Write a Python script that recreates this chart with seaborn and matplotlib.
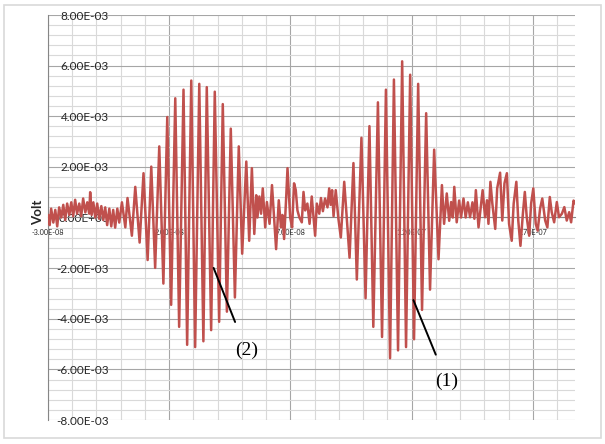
import matplotlib
matplotlib.use("Agg")
import matplotlib.pyplot as plt
from matplotlib.ticker import FuncFormatter, FixedLocator
from matplotlib.patches import Rectangle
import seaborn as sns
import pandas as pd
import numpy as np

# Received signal: time in ns, amplitude in mV (turning points of the trace)
t_ns = [
    -29.9, -29.3, -28.7, -27.8, -27.0, -26.2, -25.4, -24.5, -23.7, -22.9,
    -22.1, -21.2, -20.4, -19.6, -18.8, -18.0, -17.1, -16.3, -15.5, -14.6,
    -13.8, -13.0, -12.6, -12.0, -11.3, -10.5, -9.7, -8.9, -8.0, -7.2,
    -6.4, -5.6, -4.7, -3.9, -3.1, -2.3, -1.4, -0.6,
    0.5, 1.9, 2.8, 4.6, 6.0, 7.8, 9.4, 11.1, 12.6, 14.2,
    15.9, 17.6, 19.2, 20.8, 22.5, 24.1, 25.9, 27.4, 29.1, 30.7,
    32.4, 34.1, 35.5, 37.3, 38.8, 40.6, 42.1, 43.8, 45.4, 47.1,
    48.7, 50.1, 51.8, 53.0, 54.1,
    55.1, 55.9, 56.4, 57.2, 57.9, 58.6, 59.6, 60.3, 61.4, 62.4,
    63.4, 64.1, 65.2, 66.1, 66.7, 67.4, 68.3, 68.8, 69.9, 70.7,
    71.5, 72.2, 72.9, 73.7, 74.7, 75.4, 76.1, 77.0, 77.9, 78.8,
    80.2, 80.9, 81.9, 82.6, 83.4, 84.3, 85.3, 86.0, 86.6, 87.2,
    87.8, 88.7, 89.8,
    90.8, 92.2, 94.4, 96.0, 97.4, 99.3, 101.0, 102.6, 104.2, 106.1,
    107.8, 109.4, 111.1, 112.7, 114.4, 116.1, 117.7, 119.4, 121.0, 122.7,
    124.3, 126.0, 127.6, 129.3, 131.1, 132.5, 133.4,
    134.5, 135.5, 136.3, 137.0, 137.6, 138.6, 139.6, 140.4, 141.4, 142.3,
    143.2, 144.1, 145.1, 145.9, 146.5, 147.6, 149.3, 150.3, 151.1, 151.7,
    152.5, 153.3, 154.5, 155.3, 156.5, 157.4, 158.3, 159.3, 160.2, 161.3,
    162.1, 163.2, 164.0, 164.9, 165.9, 166.7, 167.5, 168.5, 169.3, 170.2,
    171.2, 172.0, 173.0, 173.9, 175.1, 176.0, 177.0, 177.8, 178.8, 179.9,
    180.8, 182.0, 183.0, 184.0, 185.0, 185.8, 186.8, 187.5,
]
v_mV = [
    0.10, -0.30, 0.35, -0.20, 0.30, -0.35, 0.40, 0.00, 0.50, -0.10,
    0.55, 0.10, 0.60, 0.05, 0.70, 0.15, 0.55, 0.05, 0.75, 0.20,
    0.60, 0.15, 1.00, 0.10, 0.60, 0.00, 0.55, -0.05, 0.45, -0.10,
    0.40, -0.30, 0.35, -0.35, 0.30, -0.40, 0.35, -0.20,
    0.60, -0.39, 0.77, -0.72, 1.21, -0.99, 1.75, -1.68, 2.01, -1.99,
    2.81, -2.61, 3.97, -3.45, 4.71, -4.32, 5.05, -5.03, 5.41, -5.12,
    5.28, -4.89, 5.15, -4.45, 4.97, -4.12, 4.48, -3.72, 3.51, -3.16,
    2.81, -1.43, 2.21, -0.92, 1.95,
    -0.65, 0.88, 0.00, 0.83, 0.15, 1.15, -0.39, 0.61, -0.25, 1.28,
    -0.19, -1.25, 0.68, -0.39, 0.10, -0.85, 0.88, 1.95, 0.00, -0.39,
    1.35, 1.09, 0.28, 0.00, -0.19, 1.01, 0.28, 0.55, -0.25, 0.83,
    -0.72, 0.55, 0.15, 0.77, 0.25, 0.75, 0.40, 1.15, 0.50, 1.08,
    0.05, 1.08, -0.05,
    -0.79, 1.41, -1.59, 2.15, -2.45, 3.15, -3.19, 3.61, -4.32, 4.55,
    -4.72, 5.05, -5.56, 5.45, -5.25, 6.17, -5.12, 5.64, -4.81, 5.28,
    -3.65, 4.12, -2.85, 2.68, -1.65, 1.28, -0.25,
    0.95, -0.13, 0.61, 0.00, 1.21, -0.19, 0.67, 0.00, 0.75, 0.00,
    0.60, 0.01, 0.60, -0.05, 1.08, -0.39, 1.08, 0.01, 0.68, -0.25,
    1.41, 0.55, -0.45, 1.15, 1.77, -0.12, 1.35, 1.75, -0.25, -0.92,
    0.55, 1.41, -0.12, -1.12, 0.15, 1.01, 0.01, -0.72, 0.55, 1.15,
    -0.25, -0.52, 0.35, 0.75, -0.12, -0.39, 0.81, 0.21, -0.19, 0.61,
    0.01, 0.15, 0.41, -0.12, 0.21, -0.19, 0.67, 0.55,
]

x_ticks = [-3e-8, 2e-8, 7e-8, 1.2e-7, 1.7e-7]
y_ticks = [-8e-3, -6e-3, -4e-3, -2e-3, 0.0, 2e-3, 4e-3, 6e-3, 8e-3]

df = pd.DataFrame({"Time": np.array(t_ns) * 1e-9, "Volt": np.array(v_mV) * 1e-3})

sns.set_theme(style="white")
plt.rcParams["font.family"] = ["Lato", "DejaVu Sans"]

fig = plt.figure(figsize=(6.05, 4.44), dpi=100)
ax = fig.add_axes([48 / 605, 1 - 420 / 444, 527 / 605, 405 / 444])

sns.lineplot(data=df, x="Time", y="Volt", ax=ax, color="#C0504D",
             linewidth=1.8, sort=False, estimator=None, zorder=3)

ax.set_xlim(-3e-8, 1.874e-7)
ax.set_ylim(-8e-3, 8e-3)

sci = FuncFormatter(lambda v, p: f"{v:.2E}")
ax.xaxis.set_major_locator(FixedLocator(x_ticks))
ax.xaxis.set_minor_locator(FixedLocator(np.arange(-3, 19) * 1e-8))
ax.yaxis.set_major_locator(FixedLocator(y_ticks))
ax.yaxis.set_minor_locator(FixedLocator(np.arange(-20, 21) * 0.4e-3))
ax.xaxis.set_major_formatter(sci)
ax.yaxis.set_major_formatter(sci)

ax.grid(which="minor", color="#d9d9d9", linewidth=0.8, zorder=0)
ax.grid(which="major", color="#a6a6a6", linewidth=0.8, zorder=0)
ax.set_axisbelow(True)

for side in ("top", "right"):
    ax.spines[side].set_visible(False)
ax.spines["bottom"].set_position(("data", 0))
ax.spines["bottom"].set_color("#868686")
ax.spines["bottom"].set_linewidth(0.8)
ax.spines["left"].set_color("#868686")
ax.spines["left"].set_linewidth(0.8)

ax.tick_params(axis="y", which="both", length=0, pad=-43.9,
               labelsize=8.5, labelcolor="#262626")
ax.tick_params(axis="x", which="both", length=0, pad=8,
               labelsize=5.2, labelcolor="#262626")
for lab in ax.get_yticklabels():
    lab.set_horizontalalignment("right")

ax.set_xlabel("")
ax.set_ylabel("")
ax.text(-0.019, 0.512, "Volt", transform=ax.transAxes, rotation=90,
        ha="center", va="center", fontsize=9.5, fontweight="bold",
        color="#262626")

# Markers for the two wave packets
serif = ["Liberation Serif", "DejaVu Serif"]
ax.annotate("", xy=(47.6e-9, -4.23e-3), xytext=(37.9e-9, -1.89e-3),
            arrowprops=dict(arrowstyle="-", color="black", lw=1.4), zorder=5)
ax.text(52.0e-9, -5.23e-3, "(2)", ha="center", va="center",
        fontsize=14, family=serif, color="black", zorder=5)
ax.annotate("", xy=(130.4e-9, -5.52e-3), xytext=(120.3e-9, -3.16e-3),
            arrowprops=dict(arrowstyle="-", color="black", lw=1.4), zorder=5)
ax.text(134.5e-9, -6.49e-3, "(1)", ha="center", va="center",
        fontsize=14, family=serif, color="black", zorder=5)

fig.patches.append(Rectangle((4 / 605, 1 - 438 / 444), 597 / 605, 433 / 444,
                             transform=fig.transFigure, fill=False,
                             edgecolor="#d9d9d9", linewidth=1.2))

fig.savefig("out.png", dpi=100)
